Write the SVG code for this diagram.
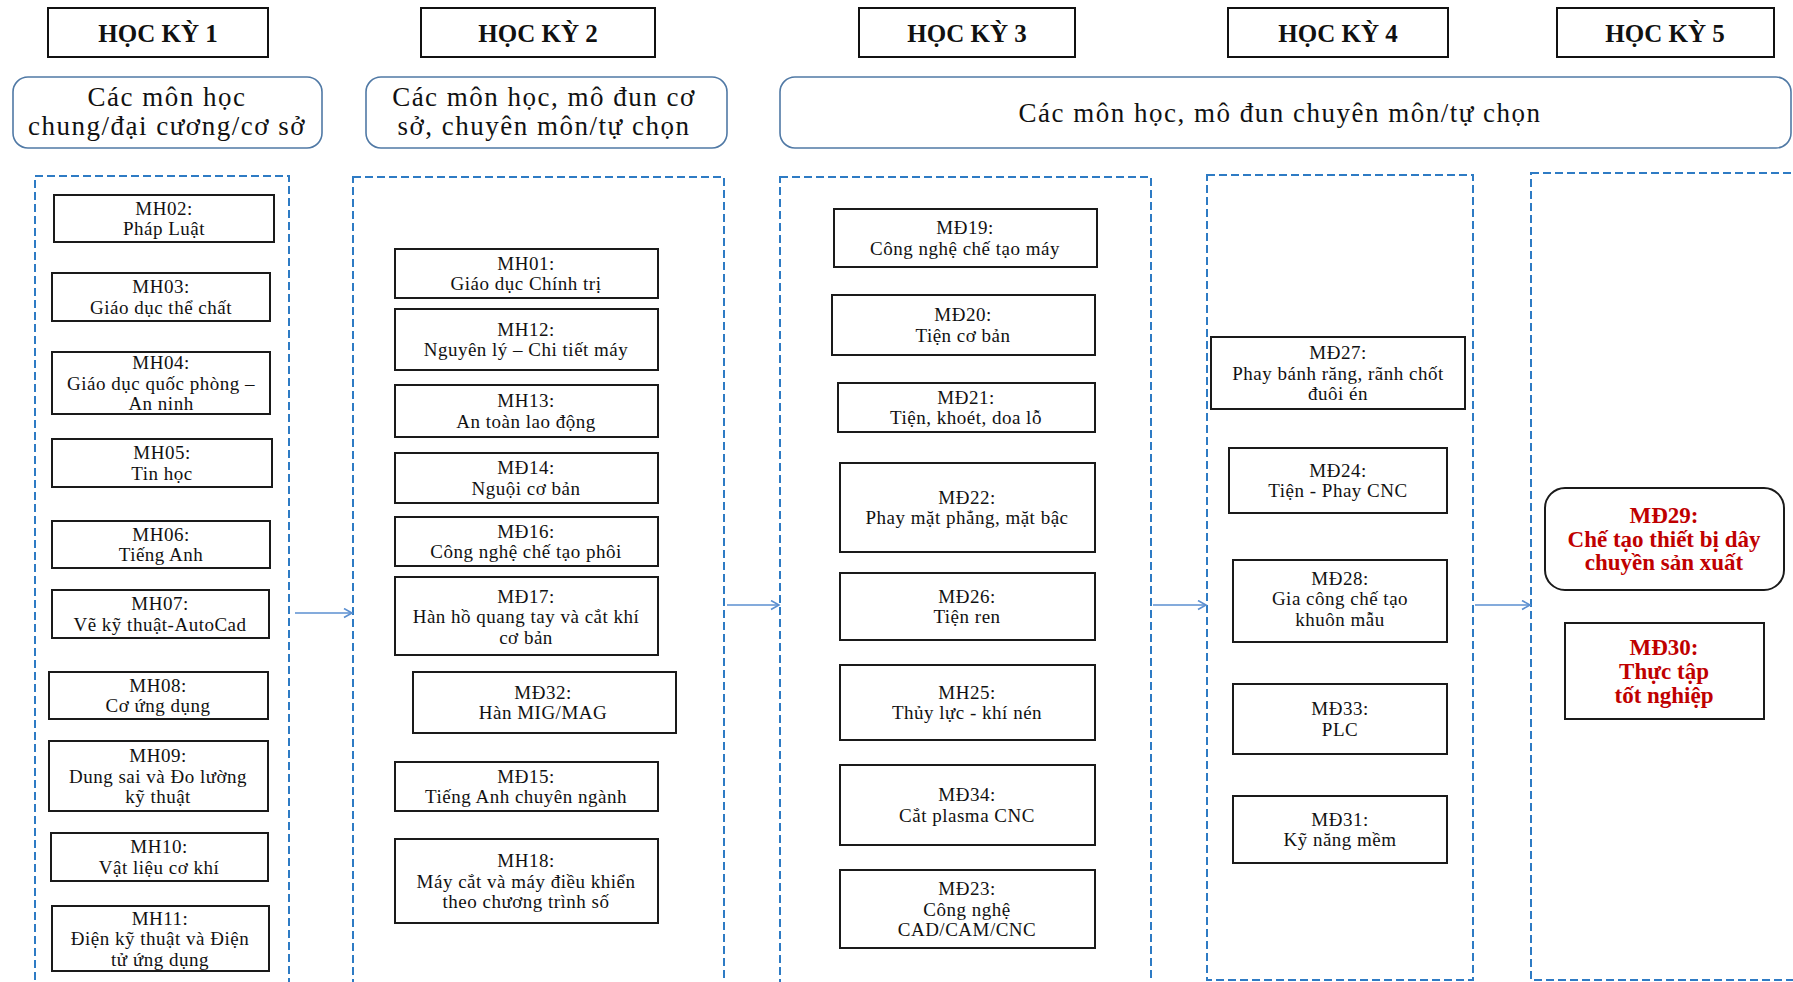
<svg xmlns="http://www.w3.org/2000/svg" width="1793" height="982" viewBox="0 0 1793 982">
<style>
  .hdr rect { fill: #fff; stroke: #111; stroke-width: 2; }
  .hdr text { font-family: "Liberation Serif", "Times New Roman", serif; font-weight: bold; font-size: 25px; text-anchor: middle; fill: #111; }
  .cat rect { fill: #fff; stroke: #5079A5; stroke-width: 1.6; }
  .cat text { font-family: "Liberation Serif", "Times New Roman", serif; font-size: 27px; letter-spacing: 1.5px; text-anchor: middle; fill: #111; }
  .col { fill: none; stroke: #2E7BC4; stroke-width: 2; stroke-dasharray: 8 4; }
  .box rect { fill: #fff; stroke: #1a1a1a; stroke-width: 2; }
  .box text { font-family: "Liberation Serif", "Times New Roman", serif; font-size: 19px; letter-spacing: 0.5px; text-anchor: middle; fill: #111; }
  .red text { font-weight: bold; font-size: 23px; letter-spacing: 0; fill: #C00000; }
  .conn line { stroke: #5B8FD0; stroke-width: 1.6; fill: none; marker-end: url(#arr); }
</style>
<defs>
  <marker id="arr" markerUnits="userSpaceOnUse" markerWidth="12" markerHeight="12" refX="9" refY="5" orient="auto">
    <path d="M1,0.5 L9,5 L1,9.5" fill="none" stroke="#5B8FD0" stroke-width="1.6"/>
  </marker>
</defs>
<rect width="1793" height="982" fill="#fff"/>

<!-- Semester headers -->
<g id="hk1" class="hdr"><rect x="48" y="8" width="220" height="49"/><text x="158" y="42">HỌC KỲ 1</text></g>
<g id="hk2" class="hdr"><rect x="421" y="8" width="234" height="49"/><text x="538" y="42">HỌC KỲ 2</text></g>
<g id="hk3" class="hdr"><rect x="859" y="8" width="216" height="49"/><text x="967" y="42">HỌC KỲ 3</text></g>
<g id="hk4" class="hdr"><rect x="1228" y="8" width="220" height="49"/><text x="1338" y="42">HỌC KỲ 4</text></g>
<g id="hk5" class="hdr"><rect x="1557" y="8" width="217" height="49"/><text x="1665" y="42">HỌC KỲ 5</text></g>

<!-- Category boxes -->
<g id="cat1" class="cat"><rect x="13" y="77" width="309" height="71" rx="15"/>
  <text x="167" y="106">Các môn học</text><text x="167" y="135">chung/đại cương/cơ sở</text></g>
<g id="cat2" class="cat"><rect x="366" y="77" width="361" height="71" rx="15"/>
  <text x="544" y="106">Các môn học, mô đun cơ</text><text x="544" y="135">sở, chuyên môn/tự chọn</text></g>
<g id="cat3" class="cat"><rect x="780" y="77" width="1011" height="71" rx="15"/>
  <text x="1280" y="122">Các môn học, mô đun chuyên môn/tự chọn</text></g>

<!-- Semester columns (dashed) -->
<g id="columns">
  <rect id="col1" class="col" x="35" y="176" width="254" height="820"/>
  <rect id="col2" class="col" x="353" y="177" width="371" height="820"/>
  <rect id="col3" class="col" x="780" y="177" width="371" height="820"/>
  <rect id="col4" class="col" x="1207" y="175" width="266" height="805"/>
  <rect id="col5" class="col" x="1531" y="173" width="280" height="807"/>
</g>

<!-- Connectors -->
<g id="connectors" class="conn">
  <line x1="295" y1="613" x2="352" y2="613"/>
  <line x1="727" y1="605" x2="779" y2="605"/>
  <line x1="1153" y1="605" x2="1206" y2="605"/>
  <line x1="1475" y1="605" x2="1530" y2="605"/>
</g>

<!-- Column 1 -->
<g id="mh02" class="box"><rect x="54" y="195" width="220" height="47"/><text x="164" y="214.5">MH02:</text><text x="164" y="235">Pháp Luật</text></g>
<g id="mh03" class="box"><rect x="52" y="273" width="218" height="48"/><text x="161" y="293">MH03:</text><text x="161" y="313.5">Giáo dục thể chất</text></g>
<g id="mh04" class="box"><rect x="52" y="352" width="218" height="62"/><text x="161" y="369">MH04:</text><text x="161" y="389.5">Giáo dục quốc phòng –</text><text x="161" y="410">An ninh</text></g>
<g id="mh05" class="box"><rect x="52" y="439" width="220" height="48"/><text x="162" y="459">MH05:</text><text x="162" y="479.5">Tin học</text></g>
<g id="mh06" class="box"><rect x="52" y="521" width="218" height="47"/><text x="161" y="540.5">MH06:</text><text x="161" y="561">Tiếng Anh</text></g>
<g id="mh07" class="box"><rect x="52" y="590" width="217" height="48"/><text x="160" y="610">MH07:</text><text x="160" y="630.5">Vẽ kỹ thuật-AutoCad</text></g>
<g id="mh08" class="box"><rect x="49" y="672" width="219" height="47"/><text x="158" y="691.5">MH08:</text><text x="158" y="712">Cơ ứng dụng</text></g>
<g id="mh09" class="box"><rect x="49" y="741" width="219" height="70"/><text x="158" y="762">MH09:</text><text x="158" y="782.5">Dung sai và Đo lường</text><text x="158" y="803">kỹ thuật</text></g>
<g id="mh10" class="box"><rect x="51" y="833" width="217" height="48"/><text x="159" y="853">MH10:</text><text x="159" y="873.5">Vật liệu cơ khí</text></g>
<g id="mh11" class="box"><rect x="52" y="906" width="217" height="65"/><text x="160" y="924.5">MH11:</text><text x="160" y="945">Điện kỹ thuật và Điện</text><text x="160" y="965.5">tử ứng dụng</text></g>

<!-- Column 2 -->
<g id="mh01" class="box"><rect x="395" y="249" width="263" height="49"/><text x="526" y="269.5">MH01:</text><text x="526" y="290">Giáo dục Chính trị</text></g>
<g id="mh12" class="box"><rect x="395" y="309" width="263" height="61"/><text x="526" y="335.5">MH12:</text><text x="526" y="356">Nguyên lý – Chi tiết máy</text></g>
<g id="mh13" class="box"><rect x="395" y="385" width="263" height="52"/><text x="526" y="407">MH13:</text><text x="526" y="427.5">An toàn lao động</text></g>
<g id="md14" class="box"><rect x="395" y="453" width="263" height="50"/><text x="526" y="474">MĐ14:</text><text x="526" y="494.5">Nguội cơ bản</text></g>
<g id="md16" class="box"><rect x="395" y="517" width="263" height="49"/><text x="526" y="537.5">MĐ16:</text><text x="526" y="558">Công nghệ chế tạo phôi</text></g>
<g id="md17" class="box"><rect x="395" y="577" width="263" height="78"/><text x="526" y="602.5">MĐ17:</text><text x="526" y="623">Hàn hồ quang tay và cắt khí</text><text x="526" y="643.5">cơ bản</text></g>
<g id="md32" class="box"><rect x="413" y="672" width="263" height="61"/><text x="543" y="698.5">MĐ32:</text><text x="543" y="719">Hàn MIG/MAG</text></g>
<g id="md15" class="box"><rect x="395" y="762" width="263" height="49"/><text x="526" y="782.5">MĐ15:</text><text x="526" y="803">Tiếng Anh chuyên ngành</text></g>
<g id="mh18" class="box"><rect x="395" y="839" width="263" height="84"/><text x="526" y="867">MH18:</text><text x="526" y="887.5">Máy cắt và máy điều khiển</text><text x="526" y="908">theo chương trình số</text></g>

<!-- Column 3 -->
<g id="md19" class="box"><rect x="834" y="209" width="263" height="58"/><text x="965" y="234">MĐ19:</text><text x="965" y="254.5">Công nghệ chế tạo máy</text></g>
<g id="md20" class="box"><rect x="832" y="295" width="263" height="60"/><text x="963" y="321">MĐ20:</text><text x="963" y="341.5">Tiện cơ bản</text></g>
<g id="md21" class="box"><rect x="838" y="383" width="257" height="49"/><text x="966" y="403.5">MĐ21:</text><text x="966" y="424">Tiện, khoét, doa lỗ</text></g>
<g id="md22" class="box"><rect x="840" y="463" width="255" height="89"/><text x="967" y="503.5">MĐ22:</text><text x="967" y="524">Phay mặt phẳng, mặt bậc</text></g>
<g id="md26" class="box"><rect x="840" y="573" width="255" height="67"/><text x="967" y="602.5">MĐ26:</text><text x="967" y="623">Tiện ren</text></g>
<g id="mh25" class="box"><rect x="840" y="665" width="255" height="75"/><text x="967" y="698.5">MH25:</text><text x="967" y="719">Thủy lực - khí nén</text></g>
<g id="md34" class="box"><rect x="840" y="765" width="255" height="80"/><text x="967" y="801">MĐ34:</text><text x="967" y="821.5">Cắt plasma CNC</text></g>
<g id="md23" class="box"><rect x="840" y="870" width="255" height="78"/><text x="967" y="895">MĐ23:</text><text x="967" y="915.5">Công nghệ</text><text x="967" y="936">CAD/CAM/CNC</text></g>

<!-- Column 4 -->
<g id="md27" class="box"><rect x="1211" y="337" width="254" height="72"/><text x="1338" y="359">MĐ27:</text><text x="1338" y="379.5">Phay bánh răng, rãnh chốt</text><text x="1338" y="400">đuôi én</text></g>
<g id="md24" class="box"><rect x="1229" y="448" width="218" height="65"/><text x="1338" y="476.5">MĐ24:</text><text x="1338" y="497">Tiện - Phay CNC</text></g>
<g id="md28" class="box"><rect x="1233" y="560" width="214" height="82"/><text x="1340" y="584.5">MĐ28:</text><text x="1340" y="605">Gia công chế tạo</text><text x="1340" y="625.5">khuôn mẫu</text></g>
<g id="md33" class="box"><rect x="1233" y="684" width="214" height="70"/><text x="1340" y="715">MĐ33:</text><text x="1340" y="735.5">PLC</text></g>
<g id="md31" class="box"><rect x="1233" y="796" width="214" height="67"/><text x="1340" y="825.5">MĐ31:</text><text x="1340" y="846">Kỹ năng mềm</text></g>

<!-- Column 5 -->
<g id="md29" class="box red"><rect x="1545" y="488" width="239" height="102" rx="20"/><text x="1664" y="523">MĐ29:</text><text x="1664" y="546.5">Chế tạo thiết bị dây</text><text x="1664" y="570">chuyền sản xuất</text></g>
<g id="md30" class="box red"><rect x="1565" y="623" width="199" height="96"/><text x="1664" y="655">MĐ30:</text><text x="1664" y="679">Thực tập</text><text x="1664" y="703">tốt nghiệp</text></g>
</svg>
